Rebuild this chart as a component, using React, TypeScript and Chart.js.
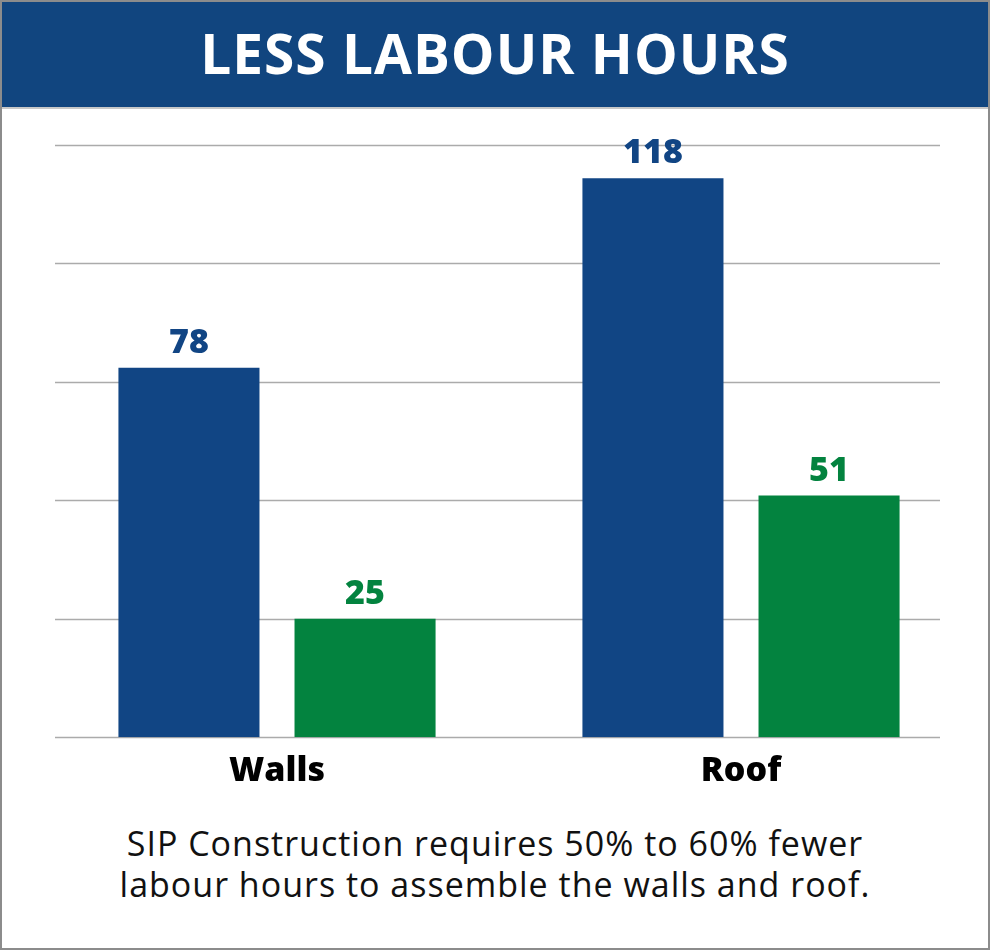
import React, { useEffect, useRef } from "react";
import { Chart, registerables } from "chart.js";

Chart.register(...registerables);

const categories = ["Walls", "Roof"];
const traditionalHours = [78, 118];
const sipHours = [25, 51];
const yTickValues = [0, 25, 50, 75, 100, 125];

const BLUE = "#114584";
const GREEN = "#03833F";
const FONT = "'Open Sans', Lato, 'Noto Sans', sans-serif";

const valueLabels = {
  id: "valueLabels",
  afterDatasetsDraw(chart: any) {
    const ctx = chart.ctx;
    ctx.save();
    chart.data.datasets.forEach((ds: any, i: number) => {
      const meta = chart.getDatasetMeta(i);
      meta.data.forEach((bar: any, j: number) => {
        ctx.fillStyle = ds.backgroundColor;
        ctx.font = `800 34px ${FONT}`;
        ctx.textAlign = "center";
        ctx.textBaseline = "alphabetic";
        ctx.fillText(String(ds.data[j]), bar.x, bar.y - 15);
      });
    });
    ctx.restore();
  },
};

// horizontal gridlines at the y scale's ticks, spanning a fixed horizontal band
const gridBand = {
  id: "gridBand",
  beforeDatasetsDraw(chart: any) {
    const ctx = chart.ctx;
    const y = chart.scales.y;
    ctx.save();
    ctx.strokeStyle = "#ababab";
    ctx.lineWidth = 1.5;
    y.ticks.forEach((t: any) => {
      const py = Math.round(y.getPixelForValue(t.value)) + 0.5;
      ctx.beginPath();
      ctx.moveTo(53, py);
      ctx.lineTo(938, py);
      ctx.stroke();
    });
    ctx.restore();
  },
};

export default function App() {
  const ref = useRef<HTMLCanvasElement | null>(null);
  useEffect(() => {
    if (!ref.current) return;
    const chart = new Chart(ref.current, {
      type: "bar",
      data: {
        labels: categories,
        datasets: [
          { label: "Traditional", data: traditionalHours, backgroundColor: BLUE },
          { label: "SIP", data: sipHours, backgroundColor: GREEN },
        ],
      },
      options: {
        animation: false,
        responsive: true,
        maintainAspectRatio: false,
        layout: { padding: { left: 43, right: 15, top: 37, bottom: 14 } },
        datasets: {
          bar: { categoryPercentage: 0.759, barPercentage: 0.801 },
        },
        plugins: { legend: { display: false }, tooltip: { enabled: false }, title: { display: false } },
        scales: {
          x: {
            grid: { display: false },
            border: { display: false },
            ticks: { color: "#000", font: { family: FONT, size: 34, weight: "800" as any }, padding: 6 },
          },
          y: {
            min: yTickValues[0],
            max: yTickValues[yTickValues.length - 1],
            afterBuildTicks: (axis: any) => {
              axis.ticks = yTickValues.map((v) => ({ value: v }));
            },
            grid: { display: false, drawTicks: false },
            border: { display: false },
            ticks: { display: false },
          },
        },
      },
      plugins: [gridBand, valueLabels],
    });
    return () => chart.destroy();
  }, []);

  return (
    <div
      style={{
        position: "fixed",
        left: 0,
        top: 0,
        width: 990,
        height: 950,
        boxSizing: "border-box",
        border: "2px solid #8c8c8c",
        background: "#fff",
        fontFamily: FONT,
        overflow: "hidden",
      }}
    >
      <div
        style={{
          position: "absolute",
          left: 0,
          top: 0,
          right: 0,
          height: 105,
          background: "#11457F",
          borderBottom: "2px solid #c8c8c8",
          color: "#fff",
          fontWeight: 700,
          fontSize: 55,
          letterSpacing: 1,
          textAlign: "center",
          lineHeight: "101px",
        }}
      >
        LESS LABOUR HOURS
      </div>
      <div style={{ position: "absolute", left: 0, top: 106, width: 986, height: 704 }}>
        <canvas ref={ref} />
      </div>
      <div
        style={{
          position: "absolute",
          left: 0,
          right: 0,
          top: 821,
          textAlign: "center",
          fontSize: 34,
          letterSpacing: 1,
          lineHeight: "41px",
          color: "#111",
        }}
      >
        SIP Construction requires 50% to 60% fewer
        <br />
        labour hours to assemble the walls and roof.
      </div>
    </div>
  );
}
